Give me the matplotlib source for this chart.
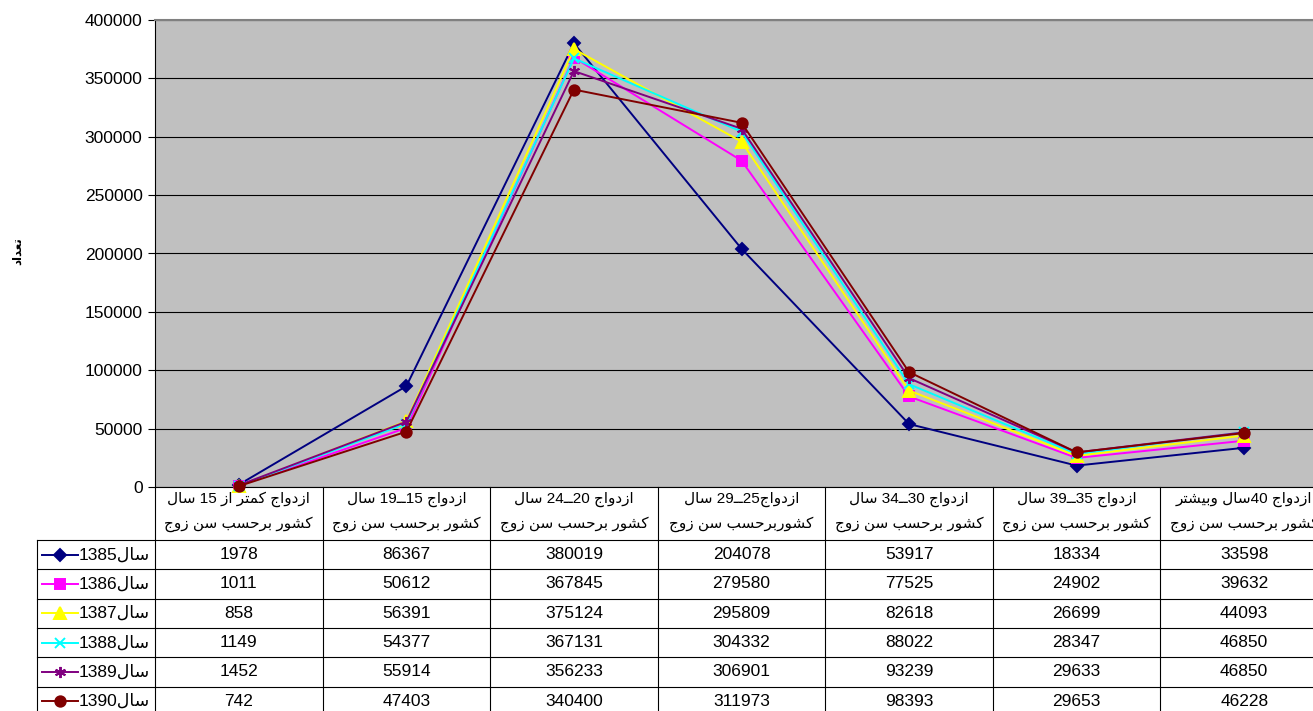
import matplotlib
matplotlib.use("Agg")
import matplotlib.pyplot as plt

plt.rcParams['font.family'] = ['Liberation Sans', 'DejaVu Sans']

W, H = 1313, 711

years = ["سال1385", "سال1386", "سال1387", "سال1388", "سال1389", "سال1390"]
cat_line1 = ["ازدواج کمتر از 15 سال", "ازدواج 15ــ19 سال", "ازدواج 20ــ24 سال",
             "ازدواج25ــ29 سال", "ازدواج 30ــ34 سال", "ازدواج 35ــ39 سال",
             "ازدواج 40سال وبیشتر"]
cat_line2 = ["کشور برحسب سن زوج", "کشور برحسب سن زوج", "کشور برحسب سن زوج",
             "کشوربرحسب سن زوج", "کشور برحسب سن زوج", "کشور برحسب سن زوج",
             "کشور برحسب سن زوج"]
y_label = "تعداد"

v1385 = [1978, 86367, 380019, 204078, 53917, 18334, 33598]
v1386 = [1011, 50612, 367845, 279580, 77525, 24902, 39632]
v1387 = [858, 56391, 375124, 295809, 82618, 26699, 44093]
v1388 = [1149, 54377, 367131, 304332, 88022, 28347, 46850]
v1389 = [1452, 55914, 356233, 306901, 93239, 29633, 46850]
v1390 = [742, 47403, 340400, 311973, 98393, 29653, 46228]
series = [v1385, v1386, v1387, v1388, v1389, v1390]

colors = ["#000080", "#FF00FF", "#FFFF00", "#00FFFF", "#800080", "#800000"]
markers = ["D", "s", "^", "x", (6, 2, 0), "o"]
msizes = [6, 7.5, 8, 7, 8, 7.5]
FS = 12.5      # numbers
FS_AR = 11     # arabic headers (DejaVu arabic runs wide)

# --- tiny arabic shaper (matplotlib does no shaping / bidi) ---
RIGHT_ONLY = {'ا': 0xFE8D, 'د': 0xFEA9, 'ر': 0xFEAD, 'ز': 0xFEAF, 'و': 0xFEED}
DUAL = {'ب': 0xFE8F, 'ت': 0xFE95, 'ج': 0xFE9D, 'ح': 0xFEA1, 'س': 0xFEB1,
        'ش': 0xFEB5, 'ع': 0xFEC9, 'ل': 0xFEDD, 'م': 0xFEE1, 'ن': 0xFEE5,
        'ک': 0xFB8E, 'ی': 0xFBFC}
TATWEEL = 'ـ'


def joins(c):
    return c in RIGHT_ONLY or c in DUAL or c == TATWEEL


def shape(s):
    out = []
    for i, c in enumerate(s):
        prev_c = s[i - 1] if i > 0 else ''
        next_c = s[i + 1] if i + 1 < len(s) else ''
        jp = (prev_c in DUAL or prev_c == TATWEEL) and joins(c)
        if c in DUAL:
            jn = joins(next_c)
            base = DUAL[c]
            if jp and jn:
                out.append(chr(base + 3))
            elif jn:
                out.append(chr(base + 2))
            elif jp:
                out.append(chr(base + 1))
            else:
                out.append(chr(base))
        elif c in RIGHT_ONLY:
            out.append(chr(RIGHT_ONLY[c] + (1 if jp else 0)))
        else:
            out.append(c)
    return ''.join(out)


def visual(s):
    s = shape(s)
    runs, cur, cur_digit = [], '', None
    for c in s:
        d = c.isdigit()
        if cur and d != cur_digit:
            runs.append((cur, cur_digit))
            cur = ''
        cur += c
        cur_digit = d
    if cur:
        runs.append((cur, cur_digit))
    return ''.join(r if d else r[::-1] for r, d in reversed(runs))


fig = plt.figure(figsize=(W / 100, H / 100), dpi=100)

# plot area in pixels (right edge runs past the figure like the source)
px_left, px_right, px_top, px_bottom = 155, 1328, 20, 487
ax = fig.add_axes([px_left / W, 1 - px_bottom / H,
                   (px_right - px_left) / W, (px_bottom - px_top) / H])
ax.set_facecolor("#C0C0C0")
ax.set_xlim(-0.5, 6.5)
ax.set_ylim(0, 400000)
ax.set_yticks(range(0, 400001, 50000))
ax.set_xticks([])
ax.grid(axis="y", color="black", linewidth=0.8)
ax.set_axisbelow(True)
ax.tick_params(axis="y", length=5, width=0.8, pad=4, labelsize=FS)
for name in ["left", "bottom"]:
    ax.spines[name].set_color("black")
    ax.spines[name].set_linewidth(0.8)
ax.spines["top"].set_color("#808080")
ax.spines["top"].set_linewidth(1.5)
ax.spines["right"].set_visible(False)

xs = list(range(len(cat_line1)))
for vals, c, m, ms in zip(series, colors, markers, msizes):
    ax.plot(xs, vals, color=c, linewidth=1.4, marker=m, markersize=ms,
            markerfacecolor=c, markeredgecolor=c, markeredgewidth=1.4,
            clip_on=False, zorder=3)

fig.text(17 / W, 1 - 251 / H, visual(y_label), rotation=90, fontsize=8.5,
         fontweight="bold", family="DejaVu Sans", ha="center", va="center")

# --- data table under the plot, drawn in pixel coordinates ---
tab = fig.add_axes([0, 0, 1, 1], facecolor="none")
tab.set_xlim(0, W)
tab.set_ylim(H, 0)
tab.axis("off")

ncol = len(cat_line1)
col_w = (px_right - px_left) / ncol
head_bottom = 540
row_h = 29.3
key_left = 37
lc = "black"

for j in range(ncol + 1):
    x = px_left + j * col_w
    tab.plot([x, x], [px_bottom, H], color=lc, linewidth=0.8)
tab.plot([key_left, key_left], [head_bottom, H], color=lc, linewidth=0.8)
for i in range(len(years)):
    y = head_bottom + i * row_h
    tab.plot([key_left, W], [y, y], color=lc, linewidth=0.8)

for j in range(ncol):
    cx = px_left + (j + 0.5) * col_w
    tab.text(cx, 499, visual(cat_line1[j]), ha="center", va="center", fontsize=FS_AR)
    tab.text(cx, 524, visual(cat_line2[j]), ha="center", va="center", fontsize=FS_AR)

for i, (yr, vals, c, m, ms) in enumerate(zip(years, series, colors, markers, msizes)):
    cy = head_bottom + (i + 0.5) * row_h
    tab.plot([42, 78], [cy, cy], color=c, linewidth=1.4)
    tab.plot([60], [cy], color=c, marker=m, markersize=ms, markerfacecolor=c,
             markeredgecolor=c, markeredgewidth=1.4)
    tab.text(150, cy, visual(yr), ha="right", va="center", fontsize=FS)
    for j, v in enumerate(vals):
        cx = px_left + (j + 0.5) * col_w
        tab.text(cx, cy, str(v), ha="center", va="center", fontsize=FS)

fig.savefig("out.png", dpi=100)
